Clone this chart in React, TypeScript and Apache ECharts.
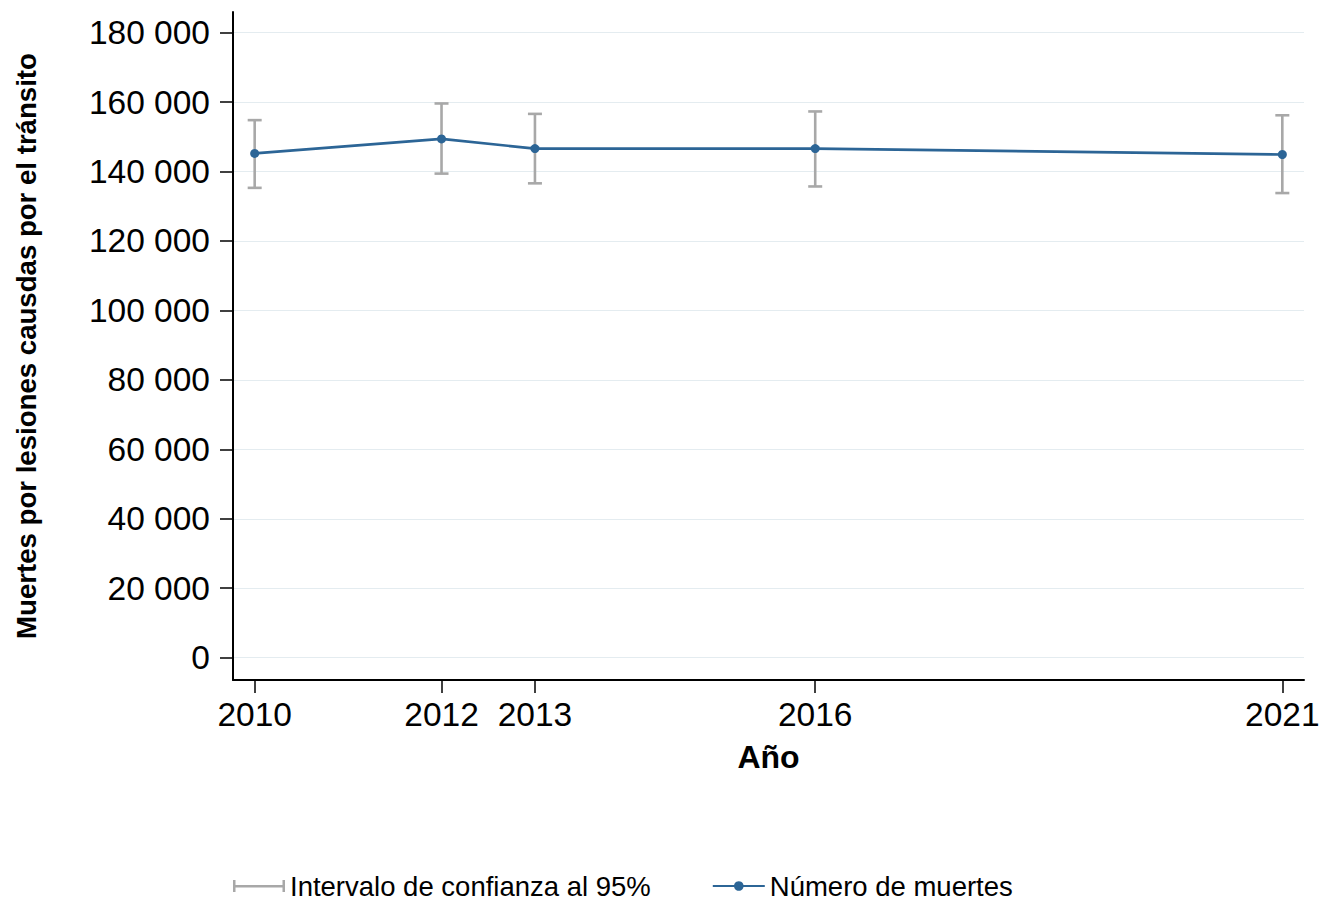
import React, { useEffect, useRef } from "react";
import * as echarts from "echarts";

const years = [2010, 2012, 2013, 2016, 2021];
const deaths = [145200, 149400, 146600, 146600, 144900];
const ciLow = [135300, 139400, 136600, 135700, 133800];
const ciHigh = [154800, 159600, 156600, 157300, 156200];
const yTicks = [0, 20000, 40000, 60000, 80000, 100000, 120000, 140000, 160000, 180000];

const FONT = "'Liberation Sans', Arial, sans-serif";
const BLUE = "#2c6596";
const GRAY = "#a8a8a8";

const fmt = (v: number) => String(Math.round(v)).replace(/\B(?=(\d{3})+(?!\d))/g, " ");

export default function App() {
  const ref = useRef<HTMLDivElement>(null);
  useEffect(() => {
    if (!ref.current) return;
    const chart = echarts.init(ref.current, undefined, { renderer: "svg" });
    const errData = years.map((y, i) => [y, ciLow[i], ciHigh[i]]);
    const lineData = years.map((y, i) => [y, deaths[i]]);
    chart.setOption({
      animation: false,
      textStyle: { fontFamily: FONT },
      grid: { left: 233, right: 18, top: 12, bottom: 222, containLabel: false, outerBoundsMode: "none" },
      legend: {
        left: 233,
        top: 872,
        padding: 0,
        itemGap: 61,
        itemWidth: 52,
        itemHeight: 12,
        textStyle: { fontSize: 27.5, color: "#000", fontFamily: FONT },
        data: [
          {
            name: "Intervalo de confianza al 95%",
            icon: "path://M0,0h2.5v12h-2.5zM0,5h52v2.5h-52zM49.5,0h2.5v12h-2.5z",
            itemStyle: { color: GRAY },
          },
          { name: "Número de muertes" },
        ],
      },
      xAxis: {
        type: "value",
        min: 2009.768,
        max: 2021.232,
        name: "Año",
        nameLocation: "middle",
        nameGap: 61,
        nameTextStyle: { fontSize: 32, fontWeight: "bold", color: "#000", fontFamily: FONT },
        axisLine: { show: true, onZero: false, lineStyle: { color: "#000", width: 2 } },
        axisTick: { show: true, length: 13, customValues: years, lineStyle: { color: "#000", width: 1.5 } },
        axisLabel: {
          customValues: years,
          formatter: (v: number) => String(v),
          fontSize: 33.5,
          color: "#000",
          margin: 17,
          fontFamily: FONT,
        },
        splitLine: { show: false },
      },
      yAxis: {
        type: "value",
        min: -6430,
        max: 185940,
        name: "Muertes por lesiones causdas por el tránsito",
        nameLocation: "middle",
        nameGap: 193,
        nameRotate: 90,
        nameTextStyle: { fontSize: 27.6, fontWeight: "bold", color: "#000", fontFamily: FONT },
        axisLine: { show: true, onZero: false, lineStyle: { color: "#000", width: 2 } },
        axisTick: { show: true, length: 13, customValues: yTicks, lineStyle: { color: "#000", width: 1.5 } },
        axisLabel: {
          customValues: yTicks,
          formatter: (v: number) => fmt(v),
          fontSize: 33.5,
          color: "#000",
          margin: 23,
          fontFamily: FONT,
        },
        splitLine: { show: true, lineStyle: { color: "#e4ecf0", width: 1 } },
      },
      series: [
        {
          name: "Intervalo de confianza al 95%",
          type: "custom",
          itemStyle: { color: GRAY },
          z: 1,
          encode: { x: 0, y: [1, 2] },
          data: errData,
          renderItem: (params: any, api: any) => {
            const x = api.value(0);
            const top = api.coord([x, api.value(2)]);
            const bot = api.coord([x, api.value(1)]);
            const hw = 7;
            const style = { stroke: GRAY, lineWidth: 2.6 };
            return {
              type: "group",
              children: [
                { type: "line", shape: { x1: top[0], y1: top[1], x2: bot[0], y2: bot[1] }, style },
                { type: "line", shape: { x1: top[0] - hw, y1: top[1], x2: top[0] + hw, y2: top[1] }, style },
                { type: "line", shape: { x1: bot[0] - hw, y1: bot[1], x2: bot[0] + hw, y2: bot[1] }, style },
              ],
            };
          },
        },
        {
          name: "Número de muertes",
          type: "line",
          z: 3,
          data: lineData,
          symbol: "circle",
          symbolSize: 9,
          itemStyle: { color: BLUE },
          lineStyle: { color: BLUE, width: 2.7 },
        },
      ],
    });
    return () => chart.dispose();
  }, []);
  return <div ref={ref} style={{ width: 1322, height: 902, position: "absolute", left: 0, top: 0 }} />;
}
